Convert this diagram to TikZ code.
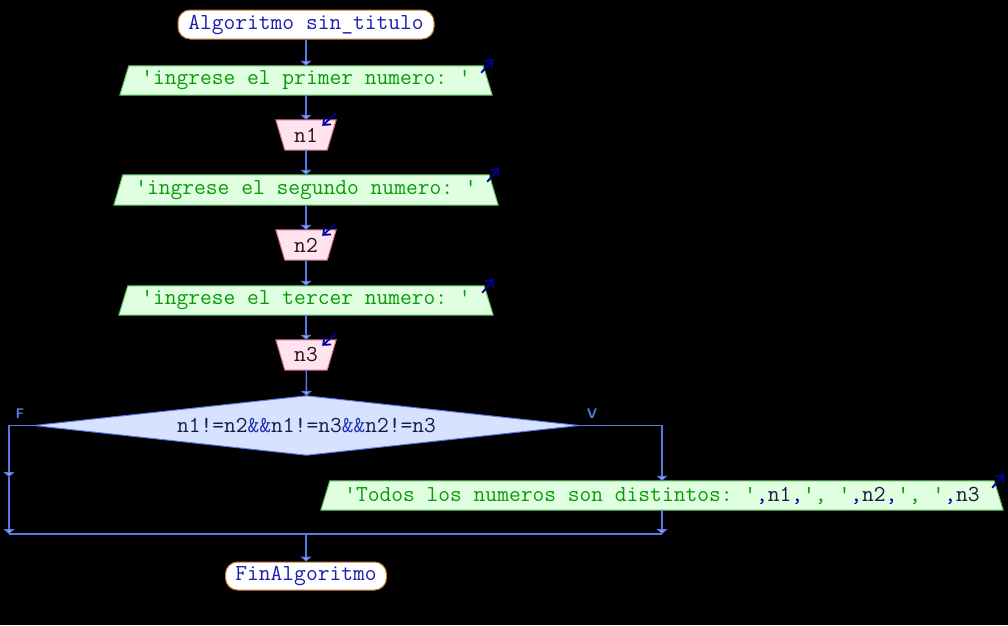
\documentclass[tikz,border=0pt]{standalone}
\usepackage{fontspec}
\usetikzlibrary{arrows.meta}
\pgfdeclarelayer{bg}
\pgfsetlayers{bg,main}
\definecolor{conncol}{HTML}{5A78E0}
\definecolor{arrfill}{HTML}{A8C0FF}
\definecolor{termborder}{HTML}{C07830}
\definecolor{termtext}{HTML}{1C1CB0}
\definecolor{outfill}{HTML}{E0FFE0}
\definecolor{outborder}{HTML}{60C060}
\definecolor{outtext}{HTML}{089A08}
\definecolor{infill}{HTML}{FFE4F0}
\definecolor{inborder}{HTML}{D06890}
\definecolor{intext}{HTML}{2A1010}
\definecolor{decfill}{HTML}{D6E2FF}
\definecolor{dectext}{HTML}{1A1A40}
\definecolor{andcol}{HTML}{2030B0}
\definecolor{iocol}{HTML}{0000A0}
\newcommand\cmx[1]{\textcolor{iocol}{#1}}
\newcommand\vrx[1]{\textcolor{dectext}{#1}}
\newcommand\andx[1]{\textcolor{andcol}{#1}}
\newcommand\q{\textquotesingle}
\frenchspacing
\begin{document}
\begin{tikzpicture}[x=1pt,y=-1pt,
  font=\ttfamily\fontsize{22.85}{26}\selectfont,
  term/.style={draw=termborder, fill=white, line width=1pt, rounded corners=12pt, minimum height=29pt, inner sep=0pt, text=termtext},
  outn/.style={minimum height=29pt, inner sep=0pt, text=outtext},
  inn/.style={minimum height=30pt, minimum width=60pt, inner sep=0pt, text=intext},
  decn/.style={minimum width=545pt, minimum height=59pt, inner sep=0pt, text=dectext},
  outsh/.style={fill=outfill, draw=outborder, line width=1pt},
  insh/.style={fill=infill, draw=inborder, line width=1pt},
  decsh/.style={fill=decfill, draw=conncol, line width=1pt},
  conn/.style={draw=conncol, line width=1.4pt},
  flowtip/.style={-{Triangle[width=11pt,length=5pt,fill=arrfill]}},
  ioarrow/.style={draw=iocol, line width=1.8pt, -{Straight Barb[length=6pt,width=10pt]}},
  lbl/.style={text=conncol, font=\sffamily\bfseries\fontsize{14}{16}\selectfont, inner sep=0pt}
]
\useasboundingbox (0,0) rectangle (1008,625);
\begin{pgfonlayer}{bg}
\fill[black] (0,0) rectangle (1008,625);
\end{pgfonlayer}

\node[term, minimum width=256pt] (start) at (306,24.5) {Algoritmo sin\_titulo};
\node[outn, minimum width=354pt] (o1) at (306,80.5) {\q ingrese el primer numero: \q};
\node[inn] (i1) at (306,135) {n1};
\node[outn, minimum width=366pt, minimum height=30pt] (o2) at (306,190) {\q ingrese el segundo numero: \q};
\node[inn] (i2) at (306,245) {n2};
\node[outn, minimum width=356pt] (o3) at (306,300.5) {\q ingrese el tercer numero: \q};
\node[inn] (i3) at (306,355) {n3};
\node[decn] (d) at (306.5,425.5) {n1!=n2\andx{\&\&}n1!=n3\andx{\&\&}n2!=n3};
\node[outn, minimum width=664pt] (o4) at (662,495.5) {\q Todos los numeros son distintos: \q\cmx{,}\vrx{n1}\cmx{,}\q,\ \q\cmx{,}\vrx{n2}\cmx{,}\q,\ \q\cmx{,}\vrx{n3}};
\node[term, minimum width=161pt, minimum height=28pt] (fin) at (306,576) {FinAlgoritmo};
\node[lbl] (fl) at (20,414) {F};
\node[lbl] (vl) at (592,414) {V};

\begin{pgfonlayer}{bg}
\foreach \n in {o1,o2,o3,o4}{
  \path[outsh] (\n.north west) -- (\n.north east) -- ([xshift=9pt]\n.south east) -- ([xshift=-9pt]\n.south west) -- cycle;
}
\foreach \n in {i1,i2,i3}{
  \path[insh] (\n.north west) -- (\n.north east) -- ([xshift=-9pt]\n.south east) -- ([xshift=9pt]\n.south west) -- cycle;
}
\path[decsh] (d.north) -- (d.east) -- (d.south) -- (d.west) -- cycle;
\end{pgfonlayer}

\coordinate (lt) at (9,425.5);
\coordinate (lm) at (9,477);
\coordinate (lb) at (9,534);
\coordinate (rt) at (662,425.5);
\coordinate (rb) at (662,534);
\coordinate (mid) at (306,534);

\draw[conn,flowtip] (start) -- (o1);
\draw[conn,flowtip] (o1) -- (i1);
\draw[conn,flowtip] (i1) -- (o2);
\draw[conn,flowtip] (o2) -- (i2);
\draw[conn,flowtip] (i2) -- (o3);
\draw[conn,flowtip] (o3) -- (i3);
\draw[conn,flowtip] (i3) -- (d.north);
\draw[conn,flowtip] (d.west) -- (lt) -- (lm);
\draw[conn,flowtip] (lm) -- (lb);
\draw[conn,flowtip] (d.east) -- (rt) -- (o4);
\draw[conn,flowtip] (o4) -- (rb);
\draw[conn] (lb) -- (rb);
\draw[conn,flowtip] (mid) -- (fin);

\foreach \n in {o1,o2,o3,o4}{
  \draw[ioarrow] ([xshift=-2pt,yshift=-7pt]\n.north east) -- ([xshift=10pt,yshift=7pt]\n.north east);
}
\foreach \n in {i1,i2,i3}{
  \draw[ioarrow] ([xshift=-1pt,yshift=6pt]\n.north east) -- ([xshift=-14pt,yshift=-6pt]\n.north east);
}
\end{tikzpicture}
\end{document}
